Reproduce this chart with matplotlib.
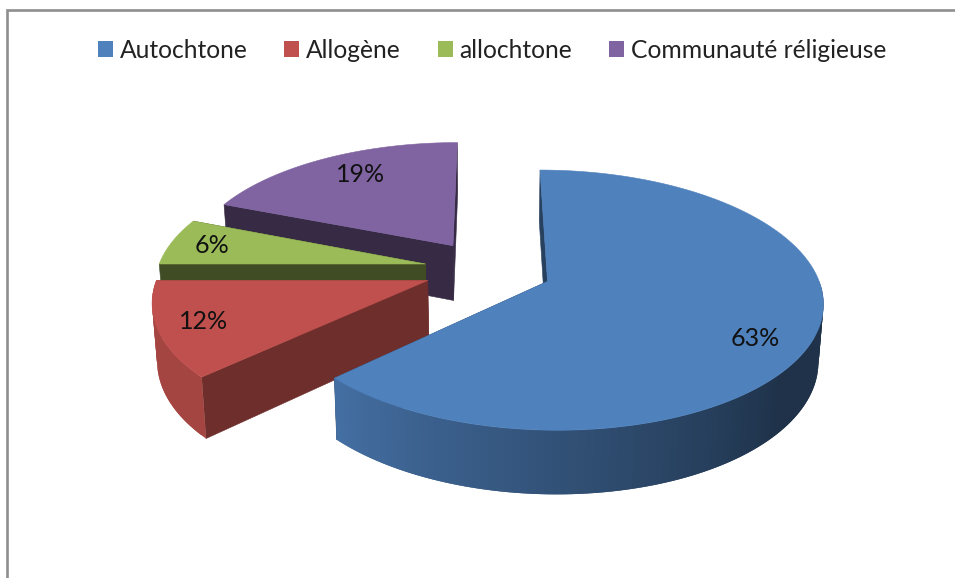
# 3D exploded pie chart (Excel look), drawn by hand in pixel coordinates

import numpy as np
import matplotlib
matplotlib.use("Agg")
import matplotlib.pyplot as plt
from matplotlib.colors import to_rgb
from matplotlib.patches import Patch, Polygon

plt.rcParams["font.family"] = ["Lato", "DejaVu Sans"]

categories = ["Autochtone", "Allogène", "allochtone", "Communauté réligieuse"]
values = [63, 12, 6, 19]
colors = ["#4f81bd", "#c0504d", "#9bbb59", "#8064a2"]

# layout of the fake 3D pie
CX, CY = 488, 269.5    # pie centre on screen
RADIUS = 268           # px in the pie plane
SQUASH = 124 / 268     # vertical flattening
PERSP = 0.142          # perspective strength
EXPLODE = 64           # slice offset in the plane
DEPTH = 56             # thickness of the pie

cut_shade = [0.50, 0.57, 0.41, 0.42]      # darkening of the radial faces
label_radius = [0.82, 0.84, 0.84, 0.77]
label_turn = [7.5, 0, 0, 3]               # degrees away from the slice middle


def project(u, v):
    """Plane coordinates (v points away from viewer) to screen pixels."""
    w = 1 / (1 + PERSP * v / RADIUS)
    return CX + u * w, CY - SQUASH * v * w, w


def lower(x, y, w):
    """Same point on the underside of the pie."""
    return CX + (x - CX) * 0.985, y + DEPTH * w**0.8


def slice_point(theta, r, mid):
    # angles are clockwise from the top, in radians
    u = EXPLODE * np.sin(mid) + r * np.sin(theta)
    v = EXPLODE * np.cos(mid) + r * np.cos(theta)
    return project(u, v)


def rim_shade(deg):
    return np.interp(deg, [130, 226], [0.39, 0.86])


def darker(color, k):
    return tuple(c * k for c in to_rgb(color))


fig = plt.figure(figsize=(9.55, 5.78), dpi=100)
ax = fig.add_axes([0, 0, 1, 1])
ax.set_xlim(0, 955)
ax.set_ylim(578, 0)
ax.axis("off")

# chart frame, runs off the right and bottom of the picture
ax.plot([7, 7, 955], [578, 10, 10], color="#8e8e8e", lw=1.9,
        solid_joinstyle="miter")

edges = np.cumsum([0] + values) / sum(values) * 2 * np.pi

# back slices first
for i in reversed(range(len(values))):
    start, end = edges[i], edges[i + 1]
    mid = (start + end) / 2
    color = colors[i]
    angles = np.linspace(start, end, 160)

    apex = slice_point(0, 0, mid)
    apex_low = lower(*apex)

    # radial cut faces
    for edge in (start, end):
        p = slice_point(edge, RADIUS, mid)
        low = lower(*p)
        face = [apex[:2], p[:2], low, apex_low]
        c = darker(color, cut_shade[i])
        ax.add_patch(Polygon(face, closed=True, fc=c, ec=c, lw=0.4))

    # outer rim, only the part facing the viewer; strips overlap so no seams
    first, last = max(start, np.pi / 2), min(end, 3 * np.pi / 2)
    if last > first:
        n_strips = int(np.degrees(last - first) / 1.5) + 1
        front = np.linspace(first, last, n_strips + 1)
        for j in range(n_strips):
            a, b = front[j], front[min(j + 2, n_strips)]
            arc = np.linspace(a, b, 6)
            outer = [slice_point(t, RADIUS, mid) for t in arc]
            strip = [p[:2] for p in outer] + [lower(*p) for p in outer[::-1]]
            c = darker(color, rim_shade(np.degrees(a)))
            ax.add_patch(Polygon(strip, closed=True, fc=c, ec="none"))

    # top face
    top = [apex[:2]] + [slice_point(a, RADIUS, mid)[:2] for a in angles]
    ax.add_patch(Polygon(top, closed=True, fc=color, ec=color, lw=0.4))

    # percent label
    lx, ly, _ = slice_point(mid + np.radians(label_turn[i]),
                            label_radius[i] * RADIUS, mid)
    ax.text(lx, ly, f"{values[i]}%", fontsize=18, color="#111111",
            ha="center", va="center")

handles = [Patch(fc=c, ec="none") for c in colors]
ax.legend(handles, categories, ncol=4, frameon=False, fontsize=17.7,
          loc="center", bbox_to_anchor=(492, 50), bbox_transform=ax.transData,
          handlelength=0.61, handleheight=0.61, handletextpad=0.28,
          columnspacing=1.5, labelcolor="#222222", borderpad=0, borderaxespad=0)

fig.savefig("out.png", dpi=100)
